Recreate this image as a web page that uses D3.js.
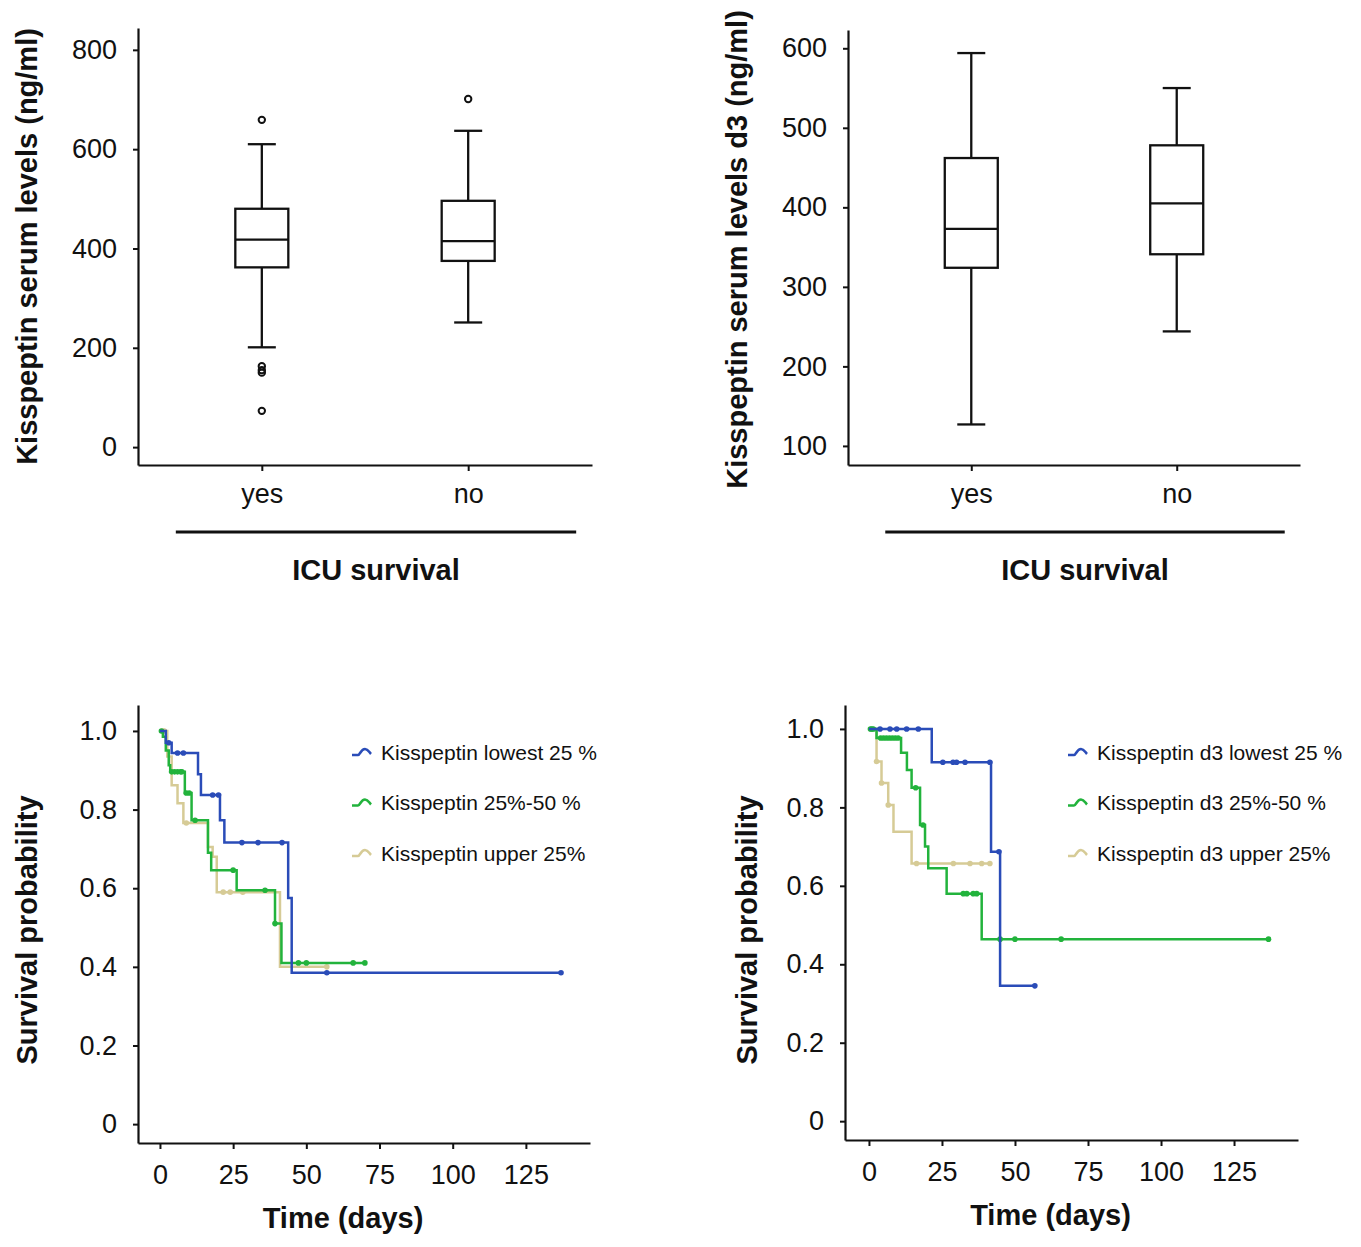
<!DOCTYPE html>
<html>
<head>
<meta charset="utf-8">
<script src="https://cdn.jsdelivr.net/npm/d3@7"></script>
<style>
  body { margin: 0; background: #fff; }
  svg text { font-family: "Liberation Sans", Arial, sans-serif; fill: #111; }
</style>
</head>
<body>
<svg id="chart" width="1361" height="1247"></svg>
<script>
// ---- data ----
const survivalGroups = ["yes", "no"];
// [min, q1, median, q3, max]
const kissBoxD1 = [[201, 362, 418, 480, 610], [251, 375, 415, 496, 637]];
const kissOutliersD1 = [[659, 163, 155, 150, 73], [701]];
const kissBoxD3 = [[127, 324, 373, 462, 594], [244, 341, 405, 478, 550]];
const kissOutliersD3 = [[], []];

const d1Ticks = [0, 200, 400, 600, 800];
const d3Ticks = [100, 200, 300, 400, 500, 600];
const dayTicks = [0, 25, 50, 75, 100, 125];
const probTicks = [0, 0.2, 0.4, 0.6, 0.8, 1.0];

const kmLabelsD1 = ["Kisspeptin lowest 25 %", "Kisspeptin 25%-50 %", "Kisspeptin upper 25%"];
const kmLabelsD3 = ["Kisspeptin d3 lowest 25 %", "Kisspeptin d3 25%-50 %", "Kisspeptin d3 upper 25%"];
const kmColors = ["#2a4cb8", "#22b33c", "#d6cb96"];

// step curves: [day, survival after that day]; last point = end of follow-up
const kmLowD1 = [[0, 1.0], [2, 0.97], [4, 0.944], [13, 0.89], [14, 0.837], [20.5, 0.773], [22, 0.716], [43.8, 0.575], [45, 0.385], [137, 0.385]];
const kmMidD1 = [[0, 1.0], [1, 0.985], [2, 0.95], [3, 0.913], [3.5, 0.896], [8.5, 0.842], [10.8, 0.773], [16.4, 0.69], [17.5, 0.646], [26.2, 0.595], [39.3, 0.51], [41.5, 0.41], [70, 0.41]];
const kmUpD1 = [[0, 1.0], [2.5, 0.935], [4, 0.862], [6, 0.816], [8, 0.766], [16.4, 0.705], [18, 0.68], [19.4, 0.59], [41, 0.40], [57, 0.40]];
const censLowD1 = [3, 6, 8, 18, 20, 28, 33.5, 41.7, 57, 137];
const censMidD1 = [0.5, 4, 5, 6, 7, 7.5, 9, 10, 12, 25, 35.9, 39.3, 47.3, 50, 66, 70];
const censUpD1 = [1, 1.5, 9, 21.6, 24, 28.3, 57];

const kmLowD3 = [[0, 1.0], [21.5, 0.915], [41.8, 0.687], [44.9, 0.345], [56.8, 0.345]];
const kmMidD3 = [[0, 1.0], [2.6, 0.977], [11, 0.939], [13, 0.895], [14.6, 0.85], [17.5, 0.755], [19.2, 0.70], [20.3, 0.645], [26.6, 0.58], [38.6, 0.464], [136.8, 0.464]];
const kmUpD3 = [[0, 1.0], [2.6, 0.917], [4.3, 0.862], [6.6, 0.806], [8.4, 0.738], [14.6, 0.657], [42, 0.657]];
const censLowD3 = [3.8, 7.2, 9.5, 12.9, 16.9, 25.3, 28.8, 30, 32.9, 41.4, 44.5, 56.8];
const censMidD3 = [0.5, 1, 1.5, 4, 5, 6, 7, 8, 9, 10, 16, 18.5, 32.3, 33.5, 35.7, 36.9, 44.9, 50, 65.8, 136.8];
const censUpD3 = [2.6, 4.3, 6.6, 16.3, 28.9, 34.6, 38.6, 41.4];

const svg = d3.select("#chart");

const styleAxis = (g, size) => {
  g.select(".domain").attr("stroke", "#111").attr("stroke-width", 2.2);
  g.selectAll(".tick line").attr("stroke", "#111").attr("stroke-width", 2);
  g.selectAll(".tick text").attr("font-size", size).attr("fill", "#111");
};

const yTitle = (x, yMid, label) => {
  svg.append("text")
    .attr("transform", `translate(${x},${yMid}) rotate(-90)`)
    .attr("text-anchor", "middle")
    .attr("font-size", 29)
    .attr("font-weight", "bold")
    .text(label);
};

const boxPanel = (o) => {
  const y = d3.scaleLinear().domain(o.yDomain).range([o.bottom, o.top]);
  const x = d3.scalePoint().domain(survivalGroups).range([o.left, o.right]).padding(0.6);

  svg.append("g")
    .attr("transform", `translate(${o.left},0)`)
    .call(d3.axisLeft(y).tickValues(o.ticks).tickSize(5).tickSizeOuter(0).tickPadding(16))
    .call((g) => styleAxis(g, 27));
  svg.append("g")
    .attr("transform", `translate(0,${o.bottom})`)
    .call(d3.axisBottom(x).tickSize(6).tickSizeOuter(0).tickPadding(13))
    .call((g) => styleAxis(g, 27));

  const bw = 53, cw = 28;
  const g = svg.append("g").attr("fill", "none").attr("stroke", "#111").attr("stroke-width", 2.3);
  survivalGroups.forEach((c, i) => {
    const [mn, q1, md, q3, mx] = o.stats[i];
    const cx = x(c);
    g.append("line").attr("x1", cx).attr("x2", cx).attr("y1", y(mx)).attr("y2", y(q3));
    g.append("line").attr("x1", cx).attr("x2", cx).attr("y1", y(q1)).attr("y2", y(mn));
    g.append("line").attr("x1", cx - cw / 2).attr("x2", cx + cw / 2).attr("y1", y(mx)).attr("y2", y(mx));
    g.append("line").attr("x1", cx - cw / 2).attr("x2", cx + cw / 2).attr("y1", y(mn)).attr("y2", y(mn));
    g.append("rect").attr("x", cx - bw / 2).attr("width", bw)
      .attr("y", y(q3)).attr("height", y(q1) - y(q3)).attr("fill", "#fff");
    g.append("line").attr("x1", cx - bw / 2).attr("x2", cx + bw / 2).attr("y1", y(md)).attr("y2", y(md));
    o.outliers[i].forEach((v) => {
      g.append("circle").attr("cx", cx).attr("cy", y(v)).attr("r", 3.2).attr("stroke-width", 2);
    });
  });

  svg.append("line")
    .attr("x1", x("yes") - 86).attr("x2", x("no") + 108)
    .attr("y1", o.bottom + 67).attr("y2", o.bottom + 67)
    .attr("stroke", "#111").attr("stroke-width", 3);
  svg.append("text")
    .attr("x", (x("yes") - 86 + x("no") + 108) / 2).attr("y", o.bottom + 115)
    .attr("text-anchor", "middle").attr("font-size", 29).attr("font-weight", "bold")
    .text("ICU survival");
  yTitle(o.titleX, (o.top + o.bottom) / 2 + o.titleShift, o.title);
};

const kmPanel = (o) => {
  const x = d3.scaleLinear().domain(o.xDomain).range([o.left, o.right]);
  const y = d3.scaleLinear().domain(o.yDomain).range([o.bottom, o.top]);

  svg.append("g")
    .attr("transform", `translate(${o.left},0)`)
    .call(d3.axisLeft(y).tickValues(probTicks).tickSize(5).tickSizeOuter(0).tickPadding(16)
      .tickFormat((d) => (d === 0 ? "0" : d3.format(".1f")(d))))
    .call((g) => styleAxis(g, 27));
  svg.append("g")
    .attr("transform", `translate(0,${o.bottom})`)
    .call(d3.axisBottom(x).tickValues(dayTicks).tickSize(6).tickSizeOuter(0).tickPadding(16))
    .call((g) => styleAxis(g, 27));

  const line = d3.line().x((d) => x(d[0])).y((d) => y(d[1])).curve(d3.curveStepAfter);
  const survAt = (curve, t) => {
    let s = curve[0][1];
    curve.forEach((p) => { if (p[0] <= t) s = p[1]; });
    return s;
  };

  // draw upper 25% first, lowest last
  [2, 1, 0].forEach((i) => {
    svg.append("path").datum(o.curves[i])
      .attr("d", line).attr("fill", "none")
      .attr("stroke", kmColors[i]).attr("stroke-width", 2.5);
    svg.append("g").selectAll("circle").data(o.censored[i]).enter()
      .append("circle")
      .attr("cx", (t) => x(t)).attr("cy", (t) => y(survAt(o.curves[i], t)))
      .attr("r", 2.8).attr("fill", kmColors[i]);
  });

  const lg = svg.append("g").attr("transform", `translate(${o.legendX},${o.legendY})`);
  o.labels.forEach((lab, i) => {
    const row = lg.append("g").attr("transform", `translate(0,${i * 50.5})`);
    row.append("path").attr("d", "M0,3 L6,3 C8,3 9,-3 13,-3 C16,-3 17,0 19,2")
      .attr("fill", "none").attr("stroke", kmColors[i]).attr("stroke-width", 2.6);
    row.append("text").attr("x", 29).attr("y", 7.5).attr("font-size", 21).attr("fill", "#222").text(lab);
  });

  svg.append("text")
    .attr("x", (o.left + o.right) / 2 - 21).attr("y", o.bottom + 85)
    .attr("text-anchor", "middle").attr("font-size", 29).attr("font-weight", "bold")
    .text("Time (days)");
  yTitle(o.titleX, 930, "Survival probability");
};

boxPanel({ left: 138, right: 592, top: 28, bottom: 465, yDomain: [-36, 844], ticks: d1Ticks,
  stats: kissBoxD1, outliers: kissOutliersD1, title: "Kisspeptin serum levels (ng/ml)", titleX: 37, titleShift: 0 });
boxPanel({ left: 848, right: 1300, top: 30, bottom: 465, yDomain: [76, 623], ticks: d3Ticks,
  stats: kissBoxD3, outliers: kissOutliersD3, title: "Kisspeptin serum levels d3 (ng/ml)", titleX: 747, titleShift: 2 });

kmPanel({ left: 138, right: 590, top: 705, bottom: 1143, xDomain: [-7.5, 146.9], yDomain: [-0.048, 1.066],
  curves: [kmLowD1, kmMidD1, kmUpD1], censored: [censLowD1, censMidD1, censUpD1],
  labels: kmLabelsD1, legendX: 352, legendY: 752, titleX: 37 });
kmPanel({ left: 845, right: 1298, top: 705, bottom: 1140, xDomain: [-8.2, 146.9], yDomain: [-0.048, 1.061],
  curves: [kmLowD3, kmMidD3, kmUpD3], censored: [censLowD3, censMidD3, censUpD3],
  labels: kmLabelsD3, legendX: 1068, legendY: 752, titleX: 757 });
</script>
</body>
</html>
